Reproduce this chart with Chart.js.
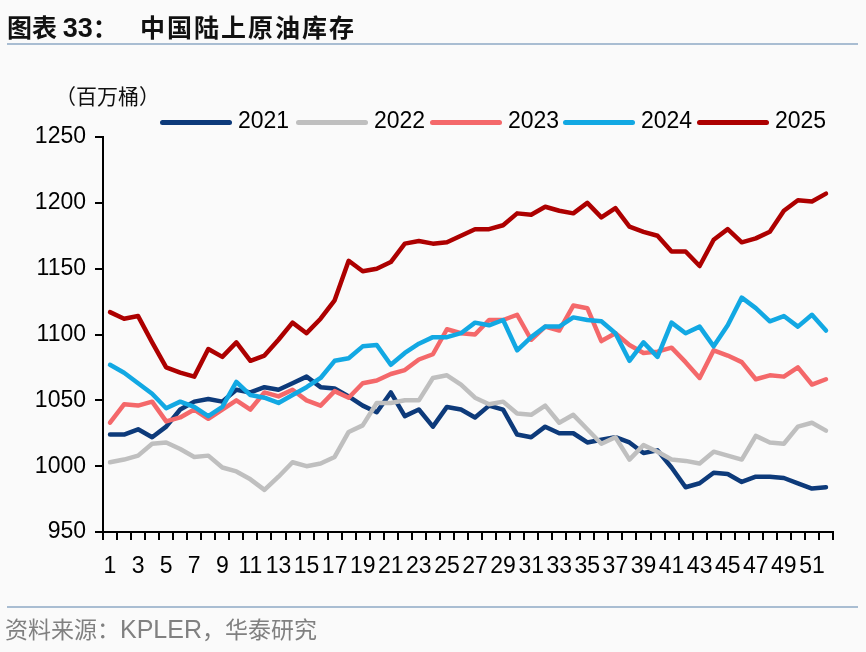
<!DOCTYPE html>
<html>
<head>
<meta charset="utf-8">
<script src="https://cdn.jsdelivr.net/npm/chart.js@4.4.1/dist/chart.umd.min.js"></script>
<style>
  html, body { margin: 0; padding: 0; background: #fafafa; }
  #wrap { position: relative; width: 866px; height: 652px; overflow: hidden; }
  #c { position: absolute; left: 0; top: 0; }
  .title { position: absolute; top: 8px; left: 7px; font-family: "Noto Sans CJK SC", sans-serif; font-weight: 700; font-size: 25px; color: #111; white-space: nowrap; }
  .title .num { font-family: "Liberation Sans", Arial, sans-serif; font-size: 27px; }
  .title .main { position: absolute; left: 133px; top: 0; letter-spacing: 2px; }
  .rule { position: absolute; left: 7px; width: 851px; height: 2px; background: #a9bdd2; }
  .unit { position: absolute; left: 55px; top: 80px; font-family: "Noto Sans CJK SC", sans-serif; font-size: 21px; color: #111; }
  .source { position: absolute; left: 5px; top: 611px; font-family: "Noto Sans CJK SC", sans-serif; font-size: 23px; color: #808080; white-space: nowrap; }
  .source .lat { font-family: "Liberation Sans", Arial, sans-serif; font-size: 25px; }
  #legend { position: absolute; left: 0; top: 0; }
  .lg-line { position: absolute; height: 5px; border-radius: 3px; top: 120px; }
  .lg-text { position: absolute; top: 107px; font-family: "Liberation Sans", Arial, sans-serif; font-size: 23px; color: #000; }
</style>
</head>
<body>
<div id="wrap">
  <canvas id="c" width="866" height="652"></canvas>
  <div class="title">图表 <span class="num">33</span>：<span class="main">中国陆上原油库存</span></div>
  <div class="rule" style="top:43px"></div>
  <div class="unit">（百万桶）</div>
  <div id="legend"></div>
  <div class="rule" style="top:606px"></div>
  <div class="source">资料来源：<span class="lat">KPLER</span>，华泰研究</div>
</div>
<script>
const weeks = ['1','2','3','4','5','6','7','8','9','10','11','12','13','14','15','16','17','18','19','20',
  '21','22','23','24','25','26','27','28','29','30','31','32','33','34','35','36','37','38','39','40',
  '41','42','43','44','45','46','47','48','49','50','51','52'];

const years = ['2021', '2022', '2023', '2024', '2025'];

const y2021 = [1024, 1024, 1028, 1022, 1030, 1043, 1049, 1051, 1049, 1058, 1056, 1060, 1058, 1063, 1068, 1060, 1059,
  1053, 1046, 1041, 1056, 1038, 1043, 1030, 1045, 1043, 1037, 1046, 1043, 1024, 1022, 1030, 1025, 1025, 1018,
  1020, 1022, 1018, 1010, 1012, 999, 984, 987, 995, 994, 988, 992, 992, 991, 987, 983, 984];

const y2022 = [1003, 1005, 1008, 1017, 1018, 1013, 1007, 1008, 999, 996, 990, 982, 992, 1003, 1000, 1002, 1007,
  1026, 1031, 1048, 1048, 1050, 1050, 1067, 1069, 1062, 1052, 1047, 1049, 1040, 1039, 1046, 1033, 1039, 1028,
  1017, 1022, 1005, 1016, 1011, 1005, 1004, 1002, 1011, 1008, 1005, 1023, 1018, 1017, 1030, 1033, 1027];

const y2023 = [1033, 1047, 1046, 1049, 1034, 1037, 1043, 1036, 1043, 1050, 1043, 1056, 1053, 1058, 1050, 1046, 1057,
  1052, 1063, 1065, 1070, 1073, 1081, 1085, 1104, 1101, 1100, 1111, 1111, 1115, 1096, 1106, 1103, 1122, 1120,
  1095, 1101, 1092, 1086, 1087, 1090, 1079, 1067, 1088, 1084, 1079, 1066, 1069, 1068, 1075, 1062, 1066];

const y2024 = [1077, 1071, 1063, 1055, 1044, 1049, 1045, 1038, 1045, 1064, 1054, 1052, 1048, 1054, 1060, 1067, 1080,
  1082, 1091, 1092, 1077, 1086, 1093, 1098, 1098, 1101, 1109, 1107, 1111, 1088, 1098, 1106, 1106, 1113, 1111,
  1110, 1101, 1080, 1094, 1083, 1109, 1101, 1106, 1091, 1107, 1128, 1120, 1110, 1114, 1106, 1115, 1103];

const y2025 = [1117, 1112, 1114, 1094, 1075, 1071, 1068, 1089, 1083, 1094, 1080, 1084, 1096, 1109, 1101, 1112, 1126,
  1156, 1148, 1150, 1155, 1169, 1171, 1169, 1170, 1175, 1180, 1180, 1183, 1192, 1191, 1197, 1194, 1192, 1200,
  1189, 1196, 1182, 1178, 1175, 1163, 1163, 1152, 1172, 1180, 1170, 1173, 1178, 1194, 1202, 1201, 1207];

const yTicks = [950, 1000, 1050, 1100, 1150, 1200, 1250];

const seriesValues = [y2021, y2022, y2023, y2024, y2025];
const colors = ['#0d3a7a', '#bfbfbf', '#f4686a', '#12a8e3', '#ad0000'];

// legend drawn as html, same place as the picture
const legendX = [160, 296, 430, 563, 697];
const legend = document.getElementById('legend');
years.forEach((y, i) => {
  const line = document.createElement('div');
  line.className = 'lg-line';
  line.style.left = legendX[i] + 'px';
  line.style.width = '72px';
  line.style.background = colors[i];
  legend.appendChild(line);
  const txt = document.createElement('div');
  txt.className = 'lg-text';
  txt.style.left = (legendX[i] + 78) + 'px';
  txt.textContent = y;
  legend.appendChild(txt);
});

const axisFont = { family: '"Liberation Sans", Arial, sans-serif', size: 23 };

new Chart(document.getElementById('c'), {
  type: 'line',
  data: {
    labels: weeks,
    datasets: years.map((y, i) => ({
      label: y,
      data: seriesValues[i],
      borderColor: colors[i],
      backgroundColor: colors[i],
      borderWidth: 4.5,
      pointRadius: 0,
      tension: 0,
      order: years.length - i,
      borderCapStyle: 'round',
      borderJoinStyle: 'round'
    }))
  },
  options: {
    responsive: false,
    animation: false,
    layout: { padding: { top: 137, right: 33, bottom: 0, left: 0 } },
    plugins: {
      legend: { display: false },
      tooltip: { enabled: false }
    },
    scales: {
      x: {
        offset: true,
        grid: { offset: true, drawOnChartArea: false, color: '#000', lineWidth: 2, tickLength: 8 },
        border: { color: '#000', width: 2 },
        ticks: {
          autoSkip: false,
          maxRotation: 0,
          minRotation: 0,
          color: '#000',
          font: axisFont,
          padding: 13,
          callback: (v, i) => (i % 2 === 0 ? weeks[i] : '')
        },
        afterFit: s => { s.height = 120; }
      },
      y: {
        min: yTicks[0],
        max: yTicks[yTicks.length - 1],
        grid: { drawOnChartArea: false, color: '#000', lineWidth: 2, tickLength: 8 },
        border: { color: '#000', width: 2 },
        ticks: {
          stepSize: 50,
          color: '#000',
          font: axisFont,
          padding: 9,
          callback: v => String(v)
        },
        afterFit: s => { s.width = 103; }
      }
    }
  }
});
</script>
</body>
</html>
